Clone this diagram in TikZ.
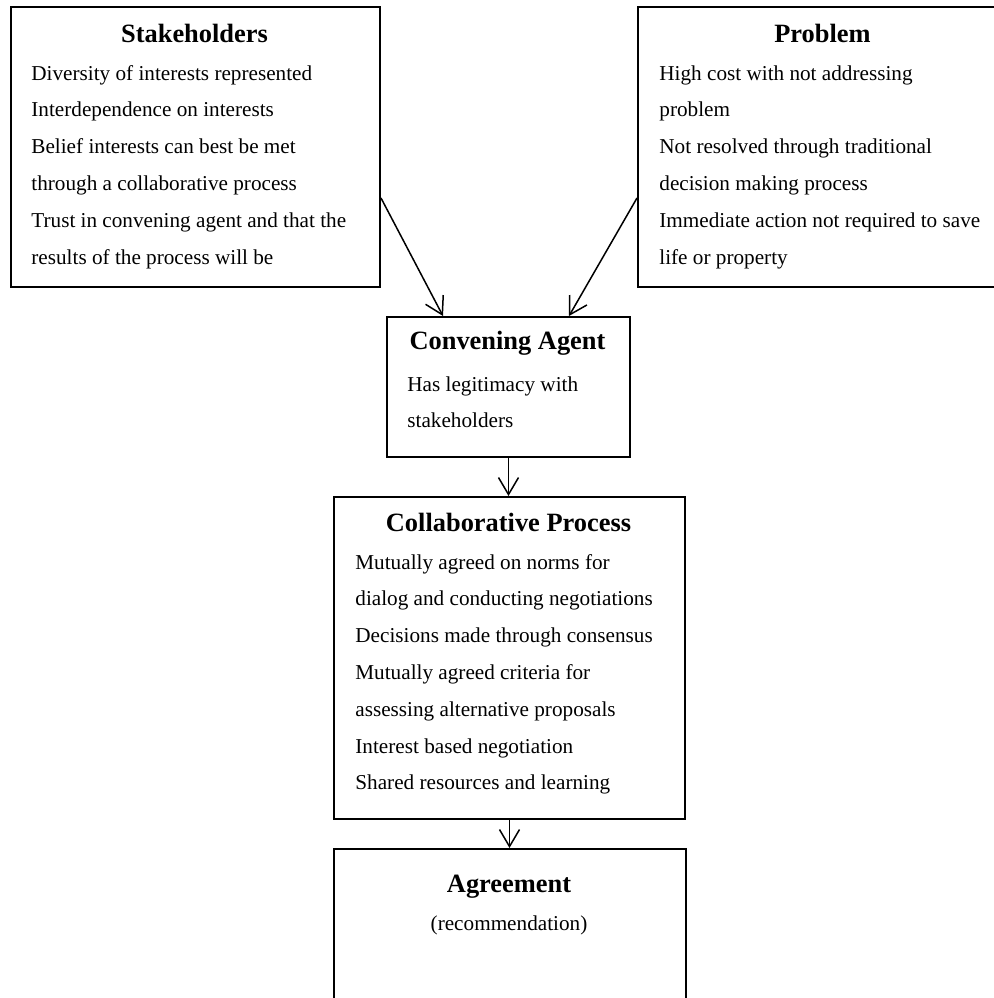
\documentclass[tikz,border=0pt]{standalone}
\usepackage{fontspec}
\setmainfont{Liberation Serif}
\usetikzlibrary{arrows.meta}
\begin{document}
\begin{tikzpicture}[x=0.5pt,y=-0.5pt,
  box/.style={draw, line width=1pt, inner sep=0pt, anchor=north west},
  ttl/.style={font=\fontsize{13.2}{15}\selectfont\bfseries, anchor=base, inner sep=0pt},
  txt/.style={font=\fontsize{10.6}{13}\selectfont, anchor=base west, inner sep=0pt},
  ctxt/.style={font=\fontsize{10.6}{13}\selectfont, anchor=base, inner sep=0pt},
  arr/.style={line width=0.75pt, -{Straight Barb[length=8.5pt,width=10pt]}}]
\useasboundingbox (0,0) rectangle (994,998);
\clip (0,0) rectangle (994,998);

% boxes
\node[box, minimum width=184.5pt, minimum height=140pt] (stake) at (10,6) {};
\node[box, minimum width=185.5pt, minimum height=140pt] (prob) at (637,6) {};
\node[box, minimum width=121.5pt, minimum height=70pt] (conv) at (386,316) {};
\node[box, minimum width=175.5pt, minimum height=161pt] (collab) at (333,496) {};
\node[box, minimum width=176pt, minimum height=85pt] (agree) at (333,848) {};

% Stakeholders
\node[ttl] (stakeT) at (194.5,42) {Stakeholders};
\foreach \t [count=\i] in {Diversity of interests represented,
  Interdependence on interests,
  Belief interests can best be met,
  through a collaborative process,
  Trust in convening agent and that the,
  results of the process will be}
  \node[txt] (s\i) at (31,43.2+36.8*\i) {\t};

% Problem
\node[ttl] (probT) at (822.5,42) {Problem};
\foreach \t [count=\i] in {High cost with not addressing,
  problem,
  Not resolved through traditional,
  decision making process,
  Immediate action not required to save,
  life or property}
  \node[txt] (p\i) at (659,43.2+36.8*\i) {\t};

% Convening Agent
\node[ttl] (convT) at (507.5,349) {Convening Agent};
\foreach \t [count=\i] in {Has legitimacy with, stakeholders}
  \node[txt] (c\i) at (407,354.2+36.8*\i) {\t};

% Collaborative Process
\node[ttl] (collabT) at (508.5,531) {Collaborative Process};
\foreach \t [count=\i] in {Mutually agreed on norms for,
  dialog and conducting negotiations,
  Decisions made through consensus,
  Mutually agreed criteria for,
  assessing alternative proposals,
  Interest based negotiation,
  Shared resources and learning}
  \node[txt] (k\i) at (355,532.2+36.8*\i) {\t};

% Agreement
\node[ttl] (agreeT) at (509,892) {Agreement};
\node[ctxt] (agreeR) at (509,930) {(recommendation)};

% connectors
\draw[arr] ([yshift=-25.5pt]stake.east) -- ([xshift=28.5pt]conv.north west);
\draw[arr] ([yshift=-25.5pt]prob.west) -- ([xshift=-31pt]conv.north east);
\draw[arr] (conv.south) -- (conv.south |- collab.north);
\draw[arr] (collab.south) -- (collab.south |- agree.north);
\end{tikzpicture}
\end{document}
